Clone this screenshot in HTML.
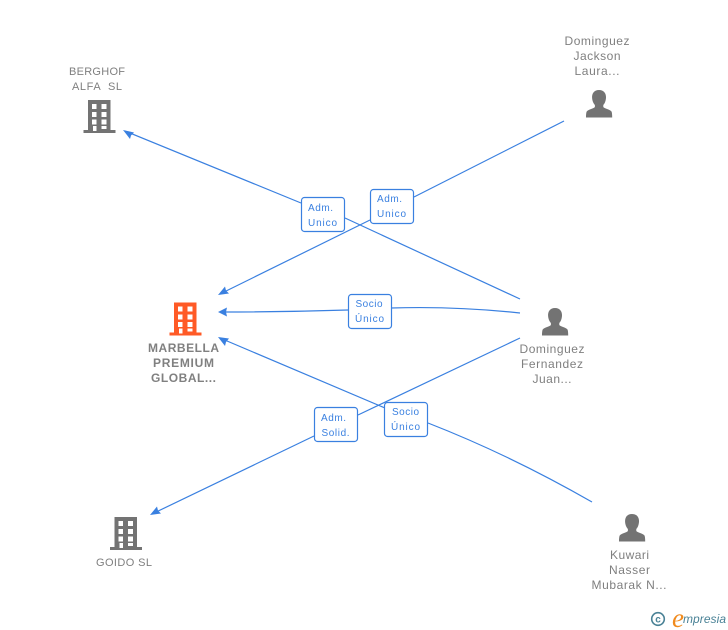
<!DOCTYPE html>
<html><head><meta charset="utf-8"><style>
html,body{margin:0;padding:0;background:#fff}
svg{display:block}
text{font-family:"Liberation Sans",sans-serif;font-size:12px;fill:#7f7f7f;text-anchor:middle}
.b{font-weight:bold;fill:#808080}
.s{font-size:11px}
.l{font-size:10px;fill:#3a80e0}
.e{fill:none;stroke:#3a80e0;stroke-width:1.2}
.a{fill:#3a80e0}
.box{fill:#fff;stroke:#3a80e0;stroke-width:1.2}
</style></head><body>
<svg width="728" height="630" viewBox="0 0 728 630" xmlns="http://www.w3.org/2000/svg">
<defs>
<g id="bld">
<path fill-rule="evenodd" d="M4.500 0H27V30H32V33H0V30H4.500ZM8.500 4V9H13V4ZM18 4V9H23V4ZM8.500 12V17H13V12ZM18 12V17H23V12ZM8.500 19.500V24.500H13V19.500ZM18 19.500V24.500H23V19.500ZM9.500 26V31H13V26ZM18 26V29H23V26Z"/>
</g>
<g id="per">
<path d="M13 0C18 0 20.300 3.500 20 8C19.800 11 18.700 13.500 17.300 15V17C18 18.500 24 19.300 25.500 21.500C26 22.500 26.200 25 26.200 27.500H0C0 25 .2 22.500 .7 21.500C2.200 19.300 8.200 18.500 8.900 17V15C7.500 13.500 6.300 11 6.100 8C5.800 3.500 8 0 13 0Z"/>
</g>
</defs>

<path class="e" d="M520 299L345 218M301 203L125 131"/>
<path class="e" d="M564 121L414 197M370 220L220 294"/>
<path class="e" d="M520 313Q455 306 391 308M348 310Q285 312 220 312"/>
<path class="e" d="M520 338L358 415M314 436L152 514"/>
<path class="e" d="M592 502Q510 455 428 423M385 408L220 338"/>

<path class="a" d="M123 130L134 132.500L131 135.500L130 139Z"/>
<path class="a" d="M218 295L225 286.500L226 290.500L229 293.500Z"/>
<path class="a" d="M218 312L227 307.500L226 312L227 316.500Z"/>
<path class="a" d="M218 337L229 338.500L226 342L225 346Z"/>
<path class="a" d="M150 515L157 506.500L158 510.500L161 513.500Z"/>

<rect class="box" x="301.500" y="197.500" width="43" height="34" rx="3"/>
<text class="l" x="320.500" y="211" textLength="25">Adm.</text><text class="l" x="322.500" y="226" textLength="29">Unico</text>
<rect class="box" x="370.500" y="189.500" width="43" height="34" rx="3"/>
<text class="l" x="389.500" y="202" textLength="25">Adm.</text><text class="l" x="391.500" y="217" textLength="29">Unico</text>
<rect class="box" x="348.500" y="294.500" width="43" height="34" rx="3"/>
<text class="l" x="369" y="307" textLength="27">Socio</text><text class="l" x="369.500" y="322" textLength="29">Único</text>
<rect class="box" x="314.500" y="407.500" width="43" height="34" rx="3"/>
<text class="l" x="333.500" y="421" textLength="25">Adm.</text><text class="l" x="335.500" y="436" textLength="28">Solid.</text>
<rect class="box" x="384.500" y="402.500" width="43" height="34" rx="3"/>
<text class="l" x="405.500" y="415" textLength="27">Socio</text><text class="l" x="405.500" y="430" textLength="29">Único</text>

<use href="#bld" x="83.500" y="100" fill="#737373"/>
<use href="#bld" x="169.500" y="302.500" fill="#ff5a26"/>
<use href="#bld" x="110" y="517" fill="#737373"/>
<use href="#per" x="586" y="90" fill="#737373"/>
<use href="#per" x="542" y="308" fill="#737373"/>
<use href="#per" x="619" y="514" fill="#737373"/>

<text class="s" x="97" y="75" textLength="56">BERGHOF</text>
<text class="s" x="97" y="90" xml:space="preserve" textLength="50">ALFA  SL</text>
<text class="b" x="183.500" y="352" textLength="71">MARBELLA</text>
<text class="b" x="183.500" y="367" textLength="61">PREMIUM</text>
<text class="b" x="183.500" y="382" textLength="65">GLOBAL...</text>
<text class="s" x="124" y="566" textLength="56">GOIDO SL</text>
<text x="597" y="45" textLength="65">Dominguez</text>
<text x="597" y="60" textLength="47">Jackson</text>
<text x="597" y="75" textLength="45">Laura...</text>
<text x="552" y="353" textLength="65">Dominguez</text>
<text x="552" y="368" textLength="62">Fernandez</text>
<text x="552" y="383" textLength="39">Juan...</text>
<text x="629.500" y="559" textLength="39">Kuwari</text>
<text x="629.500" y="574" textLength="41">Nasser</text>
<text x="629" y="589" textLength="75">Mubarak N...</text>

<circle cx="658" cy="619" r="6.300" fill="none" stroke="#4a8296" stroke-width="1.600"/>
<text x="658" y="622.500" style="font-size:10px;font-weight:bold;fill:#4a8296">c</text>
<text x="678" y="627" style="font-family:'Liberation Serif',serif;font-style:italic;font-size:27px;fill:#f08a1d">e</text>
<text x="704.500" y="623" textLength="43" style="font-style:italic;font-size:12px;fill:#4a8296">mpresia</text>
</svg>
</body></html>
